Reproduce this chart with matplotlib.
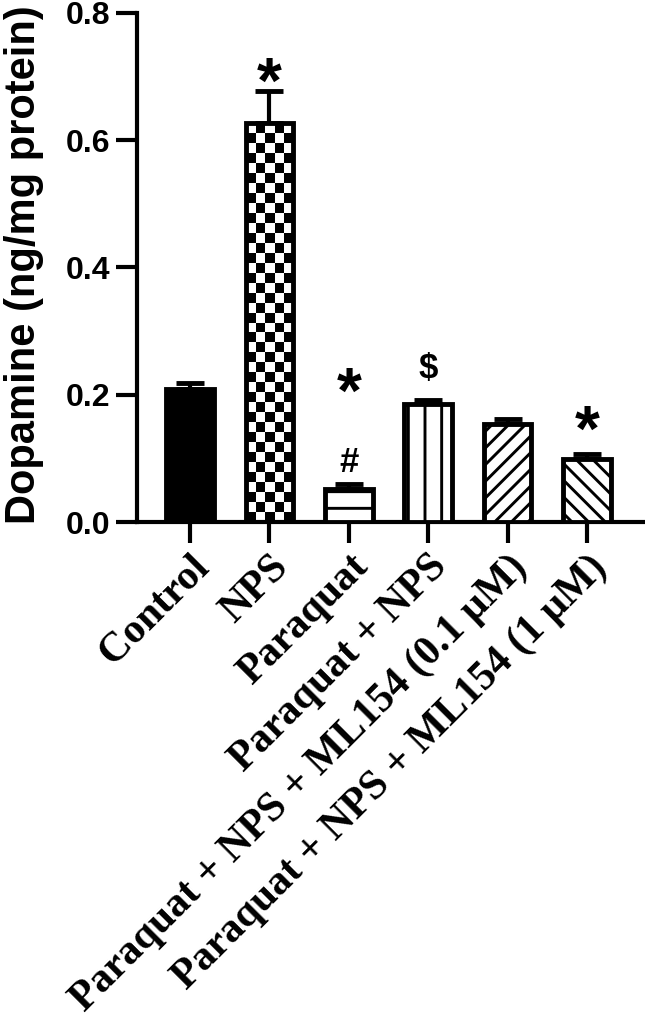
import numpy as np
import matplotlib
matplotlib.use("Agg")
import matplotlib.pyplot as plt

categories = ["Control", "NPS", "Paraquat", "Paraquat + NPS",
              "Paraquat + NPS + ML154 (0.1 μM)", "Paraquat + NPS + ML154 (1 μM)"]
means = [0.209, 0.627, 0.052, 0.186, 0.154, 0.099]
sems = [0.010, 0.051, 0.008, 0.006, 0.008, 0.008]
# significance marks: bar index, symbol, visual centre height (data units)
annot_idx = [1, 2, 2, 3, 5]
annot_txt = ["*", "#", "*", "$", "*"]
annot_y = [0.706, 0.097, 0.219, 0.244, 0.160]
yticks = [0.0, 0.2, 0.4, 0.6, 0.8]

plt.rcParams["hatch.linewidth"] = 2.1
plt.rcParams["hatch.color"] = "black"

fig = plt.figure(figsize=(6.45, 10.29), dpi=100)
ax = fig.add_axes([0.2124, 0.4927, 0.7876, 0.4947])
x = np.arange(len(categories))
w = 0.6
XL = (-0.667, 5.73)
ax.set_xlim(*XL)
ax.set_ylim(0, 0.8)

fills = ["black", "none", "white", "white", "white", "white"]
hatches = [None, None, "-", "|", "//", "\\\\"]
bars = []
for i in range(len(categories)):
    b = ax.bar(x[i], means[i], width=w, facecolor=fills[i], edgecolor="black",
               linewidth=3.5, hatch=hatches[i], zorder=3)
    bars.append(b[0])

# checkerboard fill for NPS bar
bi = 1
p0 = ax.transData.transform((x[bi] - w / 2, 0))
p1 = ax.transData.transform((x[bi] + w / 2, means[bi]))
cell = 10.0
ncols = max(1, int(round((p1[0] - p0[0]) / cell)))
nrows = max(1, int(round((p1[1] - p0[1]) / cell)))
ii, jj = np.mgrid[0:nrows, 0:ncols]
checker = ((ii + jj) % 2).astype(float)
im = ax.imshow(checker, cmap="gray", vmin=0, vmax=1, interpolation="nearest",
               extent=(x[bi] - w / 2, x[bi] + w / 2, 0, means[bi]),
               aspect="auto", zorder=2, origin="lower")
im.set_clip_path(bars[bi])
ax.set_xlim(*XL)
ax.set_ylim(0, 0.8)

ax.errorbar(x, means, yerr=[np.zeros(len(means)), sems], fmt="none",
            ecolor="black", elinewidth=3, capsize=10, capthick=3.5, zorder=1)

for k in range(len(annot_idx)):
    s = annot_txt[k]
    fs = 46 if s == "*" else 25
    dy = -0.21 * fs if s == "*" else -1.5
    ax.annotate(s, (x[annot_idx[k]], annot_y[k]), xytext=(0, dy),
                textcoords="offset points", ha="center", va="center",
                fontsize=fs, fontweight="bold", family="Liberation Sans",
                zorder=4, annotation_clip=False)

for sp in ["top", "right"]:
    ax.spines[sp].set_visible(False)
for sp in ["left", "bottom"]:
    ax.spines[sp].set_linewidth(3)
ax.tick_params(axis="both", direction="out", length=15, width=3)
ax.tick_params(axis="y", pad=4)
ax.set_yticks(yticks)
ax.set_yticklabels([f"{v:.1f}" for v in yticks], fontsize=23,
                   fontweight="bold", family="Liberation Sans")
ax.set_xticks(x)
ax.set_xticklabels(categories, rotation=45, ha="right", rotation_mode="anchor",
                   fontsize=30, fontweight="bold", family="Liberation Serif")
ax.set_ylabel("Dopamine (ng/mg protein)", fontsize=30, fontweight="bold",
              family="Liberation Sans")
ax.yaxis.set_label_coords(-0.183, 0.505)

fig.savefig("out.png", dpi=100)
